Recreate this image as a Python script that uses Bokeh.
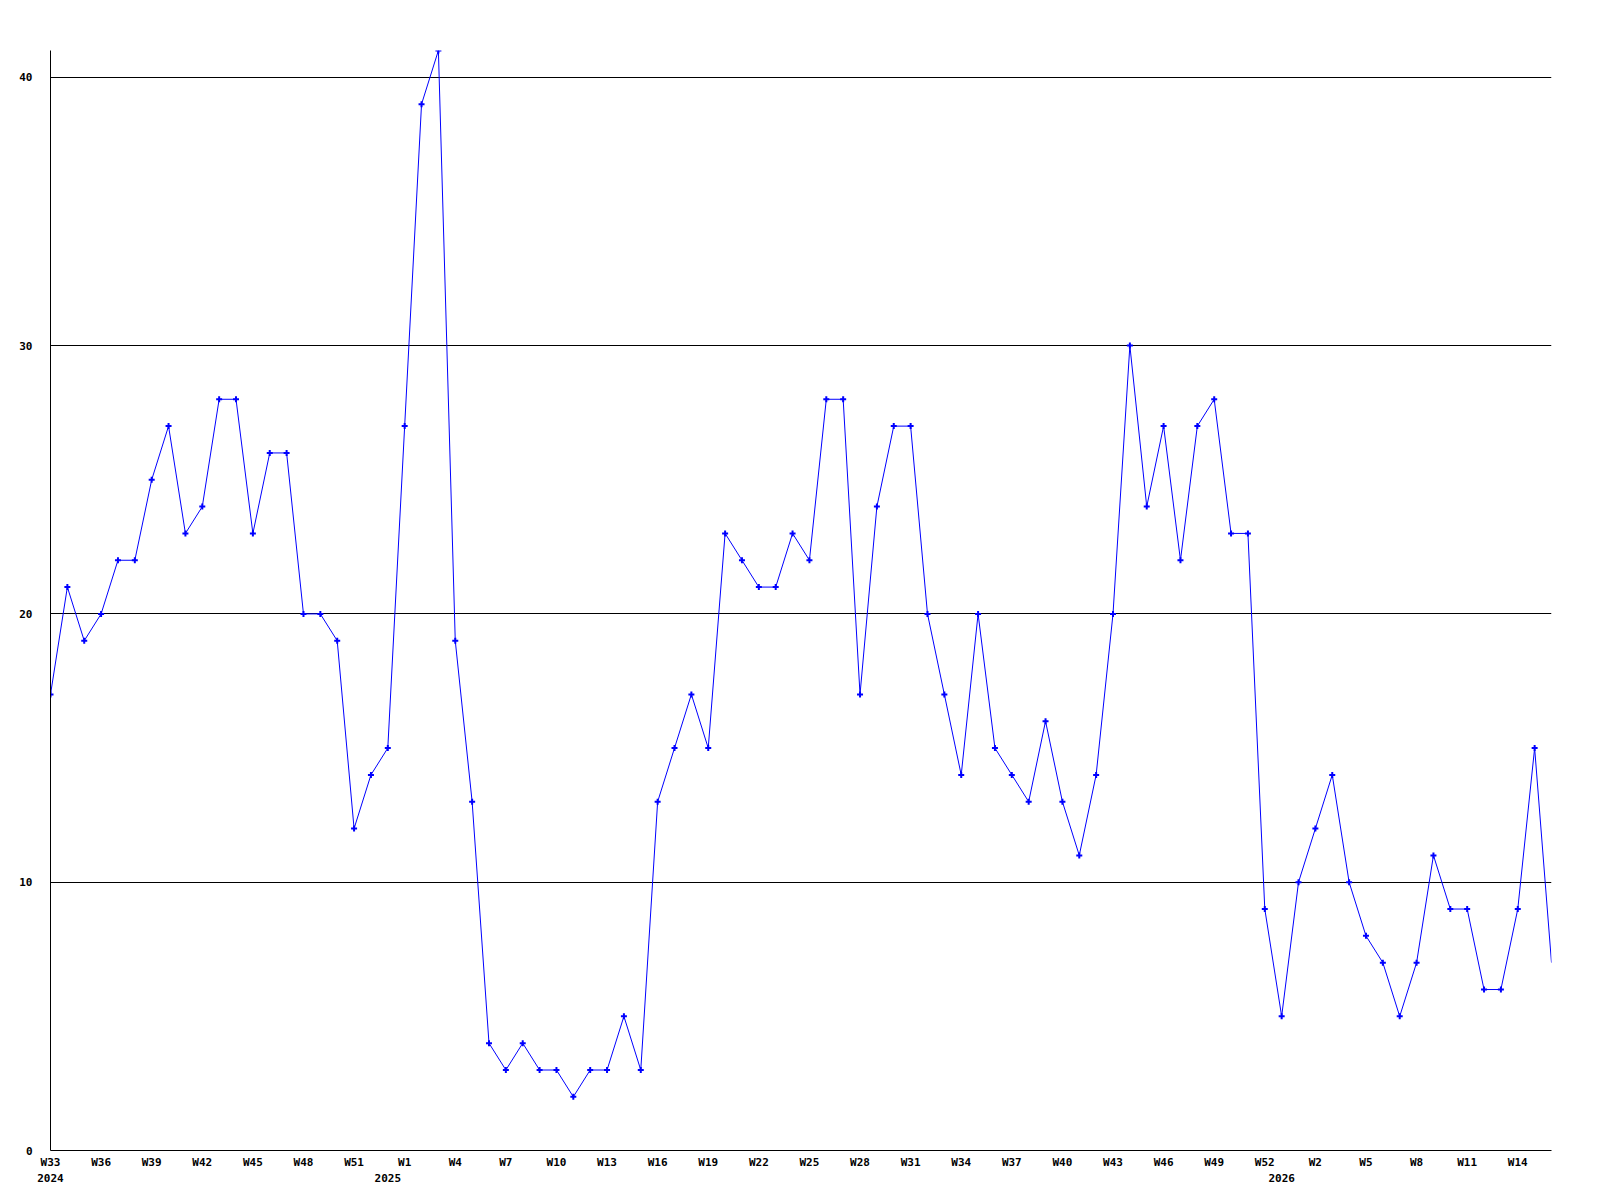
from bokeh.plotting import figure
from bokeh.models import Range1d, FixedTicker, LinearAxis, ColumnDataSource
from bokeh.embed import file_html
from bokeh.resources import INLINE

# weekly counts, W33 2024 .. W16 2026 (one bucket per period)
values = [17, 21, 19, 20, 22, 22, 25, 27, 23, 24, 28, 28, 23, 26, 26, 20, 20, 19, 12, 14,
          15, 27, 39, 41, 19, 13, 4, 3, 4, 3, 3, 2, 3, 3, 5, 3, 13, 15, 17, 15,
          23, 22, 21, 21, 23, 22, 28, 28, 17, 24, 27, 27, 20, 17, 14, 20, 15, 14, 13, 16,
          13, 11, 14, 20, 30, 24, 27, 22, 27, 28, 23, 23, 9, 5, 10, 12, 14, 10, 8, 7,
          5, 7, 11, 9, 9, 6, 6, 9, 15, 7]
index = list(range(len(values)))

week_tick_idx = [0, 3, 6, 9, 12, 15, 18, 21, 24, 27, 30, 33, 36, 39, 42, 45, 48, 51, 54, 57,
                 60, 63, 66, 69, 72, 75, 78, 81, 84, 87]
week_labels = ["W33", "W36", "W39", "W42", "W45", "W48", "W51", "W1", "W4", "W7", "W10", "W13",
               "W16", "W19", "W22", "W25", "W28", "W31", "W34", "W37", "W40", "W43", "W46",
               "W49", "W52", "W2", "W5", "W8", "W11", "W14"]
year_tick_idx = [0, 20, 73]
year_labels = ["2024", "2025", "2026"]
y_ticks = [0, 10, 20, 30, 40]

FONT = "DejaVu Sans Mono"
BLUE = "#0000ff"

p = figure(frame_width=1501, frame_height=1100, output_backend="svg", toolbar_location=None,
           x_range=Range1d(0, len(values) - 1), y_range=Range1d(0, 41),
           min_border_left=50, min_border_top=50, min_border_right=40, min_border_bottom=40,
           x_axis_location=None, y_axis_location=None)
p.outline_line_color = None
p.background_fill_color = "white"
p.border_fill_color = "white"

src = ColumnDataSource(dict(x=index, y=values))
p.line("x", "y", source=src, line_color=BLUE, line_width=1)
msrc = ColumnDataSource(dict(x=index[:-1], y=values[:-1]))
p.scatter("x", "y", source=msrc, marker="cross", size=6, line_color=BLUE, line_width=2)


def style_axis(ax, standoff):
    ax.major_tick_line_color = None
    ax.minor_tick_line_color = None
    ax.major_tick_out = 0
    ax.major_tick_in = 0
    ax.minor_tick_out = 0
    ax.minor_tick_in = 0
    ax.major_label_standoff = standoff
    ax.major_label_text_font = FONT
    ax.major_label_text_font_style = "bold"
    ax.major_label_text_font_size = "11px"
    ax.major_label_text_color = "black"


# y axis (labels left-aligned at a fixed column)
yaxis = LinearAxis(ticker=FixedTicker(ticks=y_ticks))
yaxis.axis_line_color = "black"
style_axis(yaxis, 18)
yaxis.major_label_text_align = "left"
p.add_layout(yaxis, "left")

# week axis
xaxis = LinearAxis(ticker=FixedTicker(ticks=week_tick_idx))
xaxis.major_label_overrides = {t: l for t, l in zip(week_tick_idx, week_labels)}
xaxis.axis_line_color = "black"
style_axis(xaxis, 5)
p.add_layout(xaxis, "below")

# year axis
yraxis = LinearAxis(ticker=FixedTicker(ticks=year_tick_idx))
yraxis.major_label_overrides = {t: l for t, l in zip(year_tick_idx, year_labels)}
yraxis.axis_line_color = None
style_axis(yraxis, 2)
p.add_layout(yraxis, "below")

p.xgrid.visible = False
p.ygrid.ticker = FixedTicker(ticks=y_ticks)
p.ygrid.grid_line_color = "black"
p.ygrid.grid_line_width = 1
p.ygrid.grid_line_alpha = 1.0

open("out.html", "w").write(file_html(p, INLINE))
